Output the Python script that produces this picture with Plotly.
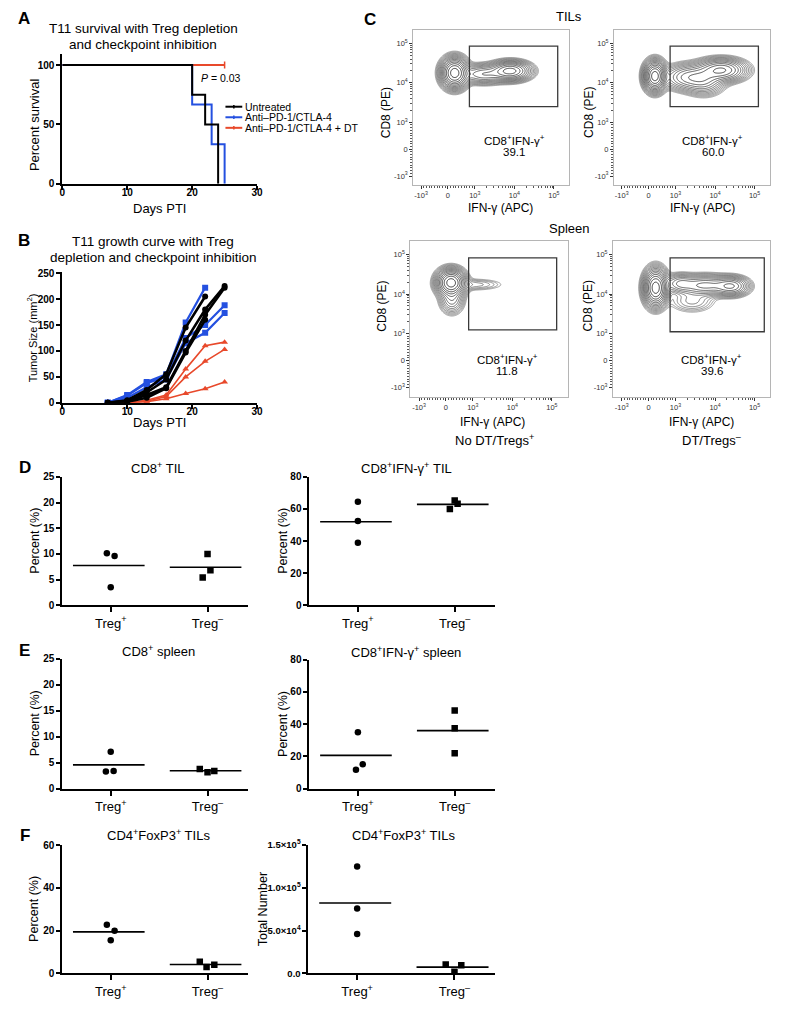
import numpy as np
import plotly.graph_objects as go

# ---------------- DATA ----------------
# Panel A: Kaplan-Meier survival (percent)
untreated_days = [0, 20, 22, 24]
untreated_surv = [100, 75, 50, 0]
antipd1_days = [0, 20, 23, 25]
antipd1_surv = [100, 66.7, 33.3, 0]
antipd1_dt_days = [0, 25]
antipd1_dt_surv = [100, 100]
censor_day = [25]
censor_surv = [100]

# Panel B: tumor growth (mm^2), one list per mouse
growth_days = [7, 10, 13, 16, 19, 22, 25]
untreated_growth = [
    [0, 5, 25, 55, 145, 205],
    [0, 4, 20, 45, 120, 180, 225],
    [0, 3, 15, 30, 100, 170, 222],
    [0, 2, 10, 28, 97, 160],
]
antipd1_growth = [
    [0, 15, 40, 55, 155, 222],
    [0, 14, 38, 50, 125, 150, 188],
    [0, 10, 30, 45, 115, 135, 173],
]
antipd1_dt_growth = [
    [0, 0, 5, 15, 65, 110, 117],
    [0, 0, 3, 12, 50, 80, 103],
    [0, 0, 2, 8, 18, 27, 40],
]

# Panel C: flow populations (IFN-g centre, CD8 centre, spread x, spread y, weight) in display units
tl_pops = [[0.17, 1.93, 0.16, 0.18, 1.0], [1.58, 1.98, 0.25, 0.12, 0.5], [0.9, 1.9, 0.3, 0.12, 0.22]]
tr_pops = [[0.16, 1.85, 0.13, 0.18, 1.0], [1.84, 2.0, 0.3, 0.14, 0.45], [1.0, 1.82, 0.3, 0.16, 0.25], [1.4, 1.75, 0.25, 0.18, 0.2]]
bl_pops = [[0.13, 1.97, 0.17, 0.16, 1.0], [0.15, 1.55, 0.15, 0.18, 0.15], [0.7, 1.92, 0.4, 0.08, 0.04]]
br_pops = [[0.18, 1.84, 0.14, 0.22, 1.0], [2.09, 1.88, 0.22, 0.12, 0.3], [1.43, 1.9, 0.35, 0.13, 0.25],
           [1.1, 1.5, 0.3, 0.15, 0.05], [0.8, 1.95, 0.2, 0.12, 0.15]]
gate_pct = ["39.1", "60.0", "11.8", "39.6"]
gate_ifng = [[800, 1.25e5], [800, 1.25e5], [845, 1.32e5], [800, 1.76e5]]
gate_cd8 = [[2500, 8.5e4], [2500, 8.5e4], [1245, 8.3e4], [1110, 8.3e4]]

# Panels D-F: dot plots
categories = ["Treg<sup>+</sup>", "Treg<sup>–</sup>"]
d_cd8_tregpos = [10.1, 9.6, 3.5]
d_cd8_tregneg = [10.0, 6.8, 5.4]
d_ifng_tregpos = [64.5, 52.5, 39.0]
d_ifng_tregneg = [60.0, 65.3, 63.3]
e_cd8_tregpos = [7.1, 3.3, 3.4]
e_cd8_tregneg = [3.8, 3.2, 3.4]
e_ifng_tregpos = [35.0, 15.2, 11.8]
e_ifng_tregneg = [48.5, 37.5, 22.0]
f_pct_tregpos = [22.8, 20.0, 15.5]
f_pct_tregneg = [5.5, 3.0, 4.0]
f_num_tregpos = [125000, 76000, 46000]
f_num_tregneg = [10500, 2000, 9500]

# ---------------- LAYOUT HELPERS ----------------
W, H = 793, 1012
FONT = "Liberation Sans"


def dx(a, b):
    return [a / W, b / W]


def dy(top, bottom):
    return [1 - bottom / H, 1 - top / H]


def px(x):
    return x / W


def py(y):
    return 1 - y / H


fig = go.Figure()
annotations = []
shapes = []


def ann(text, x, y, size, bold=False, xanchor="center", angle=0, color="black"):
    annotations.append(dict(text=text, x=px(x), y=py(y), xref="paper", yref="paper",
                            xanchor=xanchor, yanchor="middle", showarrow=False, textangle=angle,
                            font=dict(family=FONT, size=size, color=color,
                                      weight="bold" if bold else "normal")))


layout = dict(width=W, height=H, margin=dict(l=0, r=0, t=0, b=0), showlegend=False,
              paper_bgcolor="white", plot_bgcolor="white", font=dict(family=FONT, color="black"))


def prism_axis(domain, rng, tickvals, ticktext=None, bold=True, size=10, anchor=None, standoff=0, ticklen=5):
    d = dict(domain=domain, range=rng, showgrid=False, zeroline=False, showline=True,
             linecolor="black", linewidth=2, ticks="outside", ticklen=ticklen, tickwidth=2,
             tickcolor="black", tickmode="array", tickvals=tickvals,
             tickfont=dict(family=FONT, size=size, color="black", weight="bold" if bold else "normal"),
             anchor=anchor, fixedrange=True, ticklabelstandoff=standoff)
    if ticktext is not None:
        d["ticktext"] = ticktext
    return d


# ---------------- PANEL A ----------------
layout["xaxis"] = prism_axis(dx(60, 257), [0, 30], [0, 10, 20, 30], anchor="y", standoff=-6, ticklen=4)
layout["yaxis"] = prism_axis(dy(48, 179), [0, 109], [0, 50, 100], anchor="x", ticklen=4)
fig.add_trace(go.Scatter(x=antipd1_dt_days, y=antipd1_dt_surv, mode="lines", line_shape="hv",
                         line=dict(color="#e8492b", width=2), xaxis="x", yaxis="y"))
fig.add_trace(go.Scatter(x=censor_day, y=censor_surv, mode="markers",
                         marker=dict(symbol="line-ns", size=5, line=dict(color="#e8492b", width=1.5)),
                         xaxis="x", yaxis="y"))
fig.add_trace(go.Scatter(x=antipd1_days, y=antipd1_surv, mode="lines", line_shape="hv",
                         line=dict(color="#2450e0", width=2), xaxis="x", yaxis="y"))
fig.add_trace(go.Scatter(x=untreated_days, y=untreated_surv, mode="lines", line_shape="hv",
                         line=dict(color="black", width=2), xaxis="x", yaxis="y"))
ann("A", 21, 12, 17, bold=True)
ann("T11 survival with Treg depletion", 142, 22, 13.5)
ann("and checkpoint inhibition", 142, 38, 13.5)
ann("Percent survival", 32, 119, 13, angle=-90)
ann("Days PTI", 158, 204, 13)
ann("<i>P</i> = 0.03", 220, 72, 10.5)
legend_items = [("Untreated", "black"), ("Anti–PD-1/CTLA-4", "#2450e0"), ("Anti–PD-1/CTLA-4 + DT", "#e8492b")]
for i, (lab, col) in enumerate(legend_items):
    yy = 101 + i * 10.7
    shapes.append(dict(type="line", xref="paper", yref="paper", x0=px(225), x1=px(242), y0=py(yy), y1=py(yy),
                       line=dict(color=col, width=2)))
    shapes.append(dict(type="line", xref="paper", yref="paper", x0=px(233.5), x1=px(233.5), y0=py(yy - 1.8),
                       y1=py(yy + 1.8), line=dict(color=col, width=1.5)))
    ann(lab, 243, yy, 10.5, xanchor="left")

# ---------------- PANEL B ----------------
layout["xaxis2"] = prism_axis(dx(60, 257), [0, 30], [0, 10, 20, 30], anchor="y2", standoff=-6, ticklen=4)
layout["yaxis2"] = prism_axis(dy(268, 401), [0, 253], [0, 50, 100, 150, 200, 250], anchor="x2", ticklen=4)
for series in antipd1_dt_growth:
    fig.add_trace(go.Scatter(x=growth_days[:len(series)], y=series, mode="lines+markers",
                             line=dict(color="#e8492b", width=1.6),
                             marker=dict(symbol="triangle-up", size=6, color="#e8492b"),
                             xaxis="x2", yaxis="y2"))
for series in antipd1_growth:
    fig.add_trace(go.Scatter(x=growth_days[:len(series)], y=series, mode="lines+markers",
                             line=dict(color="#2450e0", width=2.2),
                             marker=dict(symbol="square", size=6, color="#2450e0"),
                             xaxis="x2", yaxis="y2"))
for series in untreated_growth:
    fig.add_trace(go.Scatter(x=growth_days[:len(series)], y=series, mode="lines+markers",
                             line=dict(color="black", width=2.6),
                             marker=dict(symbol="circle", size=6, color="black"),
                             xaxis="x2", yaxis="y2"))
ann("B", 21, 237, 17, bold=True)
ann("T11 growth curve with Treg", 152, 238, 13.5)
ann("depletion and checkpoint inhibition", 152, 254, 13.5)
ann("Tumor Size (mm<sup>2</sup>)", 29, 335, 11, angle=-90)
ann("Days PTI", 158, 421, 13)

# ---------------- PANEL C ----------------
DEC = 40.0  # pixels per decade
LIN = 0.68  # display units for 0 -> 10^3


def u(v):
    v = np.asarray(v, dtype=float)
    a = np.abs(v)
    out = np.where(a <= 1000, LIN * a / 1000, LIN + np.log10(np.maximum(a, 1e-9) / 1000))
    return np.sign(v) * out


major_vals = [-1000, 0, 1000, 1e4, 1e5]
major_text = ["-10<sup>3</sup>", "0", "10<sup>3</sup>", "10<sup>4</sup>", "10<sup>5</sup>"]
minor_vals = [m * 10 ** k for k in (3, 4) for m in range(2, 10)] + [100 * i for i in range(-9, 10) if i != 0]
major_u = list(u(major_vals))
minor_u = list(u(minor_vals))

flow_boxes = [  # (left, right, top, bottom, x0px, y0px)
    (415, 572, 23, 180, 450, 144),
    (618, 776, 23, 180, 653, 144),
    (412, 571, 237, 395, 448, 358),
    (617, 776, 237, 395, 653, 358),
]
cd8_title_pos = [(387, 107), (592, 107), (383, 303), (592, 303)]
ifng_title_pos = [(503, 204), (708, 204), (495, 420), (707, 420)]
pops_all = [tl_pops, tr_pops, bl_pops, br_pops]
for i, ((l, r, t, b, x0, y0), pops) in enumerate(zip(flow_boxes, pops_all)):
    n = 3 + i
    xr = [(l - x0) / DEC, (r - x0) / DEC]
    yr = [(y0 - b) / DEC, (y0 - t) / DEC]
    common = dict(showgrid=False, zeroline=False, showline=True, mirror=True, linecolor="#b5b5b5",
                  linewidth=1, ticks="outside", ticklen=3, tickwidth=1, tickcolor="#333",
                  tickmode="array", tickvals=major_u, ticktext=major_text,
                  tickfont=dict(family=FONT, size=7.5, color="#333"), fixedrange=True,
                  minor=dict(tickmode="array", tickvals=minor_u, ticks="outside", ticklen=2,
                             tickwidth=1, tickcolor="#555"))
    layout[f"xaxis{n}"] = dict(domain=dx(l, r), range=xr, anchor=f"y{n}", **common)
    layout[f"yaxis{n}"] = dict(domain=dy(t, b), range=yr, anchor=f"x{n}", **common)
    gx = np.linspace(xr[0], xr[1], 220)
    gy = np.linspace(yr[0], yr[1], 220)
    XX, YY = np.meshgrid(gx, gy)
    dens = np.zeros_like(XX)
    for cx, cy, sx, sy, w in pops:
        dens += w * np.exp(-0.5 * (((XX - cx) / sx) ** 2 + ((YY - cy) / sy) ** 2))
    z = np.log10(dens / dens.max() + 1e-12)
    fig.add_trace(go.Contour(x=gx, y=gy, z=z, showscale=False, hoverinfo="skip",
                             contours=dict(coloring="lines", start=-2.05, end=-0.06, size=0.14),
                             line=dict(width=0.8, smoothing=1.0),
                             colorscale=[[0, "#8a8a8a"], [1, "#111111"]],
                             xaxis=f"x{n}", yaxis=f"y{n}"))
    gx0, gx1 = u(gate_ifng[i])
    gy0, gy1 = u(gate_cd8[i])
    shapes.append(dict(type="rect", xref=f"x{n}", yref=f"y{n}", x0=gx0, x1=gx1, y0=gy0, y1=gy1,
                       line=dict(color="#3a3a3a", width=1.3)))
    lab_x = [517, 718, 510, 717][i]
    lab_y = [135, 135, 357, 357][i]
    ann("CD8<sup>+</sup>IFN-γ<sup>+</sup>", lab_x, lab_y, 11.5)
    ann(gate_pct[i], lab_x, lab_y + 12, 11.5)
    ann("CD8 (PE)", cd8_title_pos[i][0], cd8_title_pos[i][1], 12, angle=-90)
    ann("IFN-γ (APC)", ifng_title_pos[i][0], ifng_title_pos[i][1], 12)

ann("C", 371, 13, 17, bold=True)
ann("TILs", 573, 10, 13)
ann("Spleen", 572, 224, 13)
ann("No DT/Tregs<sup>+</sup>", 497, 439, 13)
ann("DT/Tregs<sup>–</sup>", 717, 439, 13)

# ---------------- PANELS D-F ----------------
jitter = {
    "d_l": ([-0.04, 0.04, 0.0], [0.0, 0.03, -0.05]),
    "d_r": ([0.0, 0.0, 0.0], [-0.05, 0.0, 0.03]),
    "e_l": ([0.0, -0.05, 0.03], [-0.08, 0.0, 0.07]),
    "e_r": ([0.0, 0.05, -0.02], [0.0, 0.0, 0.0]),
    "f_l": ([-0.04, 0.04, 0.0], [-0.08, -0.01, 0.07]),
    "f_r": ([0.0, 0.0, 0.0], [-0.09, 0.0, 0.07]),
}
dot_panels = [
    # key, left, right, top, bottom, yrange, ticks, ticktext, pos, neg, title, title_x, title_y, ytitle, ytitle_x
    ("d_l", 60, 248, 476, 606, [0, 25], [0, 5, 10, 15, 20, 25], None, d_cd8_tregpos, d_cd8_tregneg,
     "CD8<sup>+</sup> TIL", 157, 467, "Percent (%)", 32),
    ("d_r", 310, 498, 476, 606, [0, 80], [0, 20, 40, 60, 80], None, d_ifng_tregpos, d_ifng_tregneg,
     "CD8<sup>+</sup>IFN-γ<sup>+</sup> TIL", 408, 467, "Percent (%)", 283),
    ("e_l", 60, 248, 660, 792, [0, 25], [0, 5, 10, 15, 20, 25], None, e_cd8_tregpos, e_cd8_tregneg,
     "CD8<sup>+</sup> spleen", 157, 652, "Percent (%)", 32),
    ("e_r", 310, 498, 661, 792, [0, 80], [0, 20, 40, 60, 80], None, e_ifng_tregpos, e_ifng_tregneg,
     "CD8<sup>+</sup>IFN-γ<sup>+</sup> spleen", 408, 653, "Percent (%)", 283),
    ("f_l", 60, 248, 849, 979, [0, 60], [0, 20, 40, 60], None, f_pct_tregpos, f_pct_tregneg,
     "CD4<sup>+</sup>FoxP3<sup>+</sup> TILs", 157, 839, "Percent (%)", 32),
    ("f_r", 309, 498, 849, 979, [0, 150000], [0, 50000, 100000, 150000],
     ["0.0", "5.0×10<sup>4</sup>", "1.0×10<sup>5</sup>", "1.5×10<sup>5</sup>"], f_num_tregpos, f_num_tregneg,
     "CD4<sup>+</sup>FoxP3<sup>+</sup> TILs", 405, 839, "Total Number", 263),
]
for j, (key, l, r, t, b, yr, yt, ytt, pos, neg, title, tx, ty, ytitle, ytx) in enumerate(dot_panels):
    n = 7 + j
    layout[f"xaxis{n}"] = prism_axis(dx(l, r), [-0.5, 1.42], [0, 1], categories, bold=False, size=13,
                                     anchor=f"y{n}")
    layout[f"yaxis{n}"] = prism_axis(dy(t, b), yr, yt, ytt, bold=True, size=10 if ytt is None else 9.5,
                                     anchor=f"x{n}", ticklen=4)
    jp, jn = jitter[key]
    for c, (vals, jit, sym) in enumerate([(pos, jp, "circle"), (neg, jn, "square")]):
        fig.add_trace(go.Scatter(x=[c + o for o in jit], y=vals, mode="markers",
                                 marker=dict(symbol=sym, size=6.5, color="black"),
                                 xaxis=f"x{n}", yaxis=f"y{n}"))
        m = float(np.mean(vals))
        fig.add_trace(go.Scatter(x=[c - 0.39, c + 0.35], y=[m, m], mode="lines",
                                 line=dict(color="black", width=1.6), xaxis=f"x{n}", yaxis=f"y{n}"))
    ann(title, tx, ty, 13)
    ann(ytitle, ytx, (t + b) / 2, 12.5, angle=-90)

ann("D", 22, 466, 17, bold=True)
ann("E", 22, 652, 17, bold=True)
ann("F", 22, 839, 17, bold=True)

layout["annotations"] = annotations
layout["shapes"] = shapes
fig.update_layout(**layout)
fig.write_html("out.html", config={"displayModeBar": False},
               post_script="document.body.style.margin='0px';document.documentElement.style.overflow='hidden';")
